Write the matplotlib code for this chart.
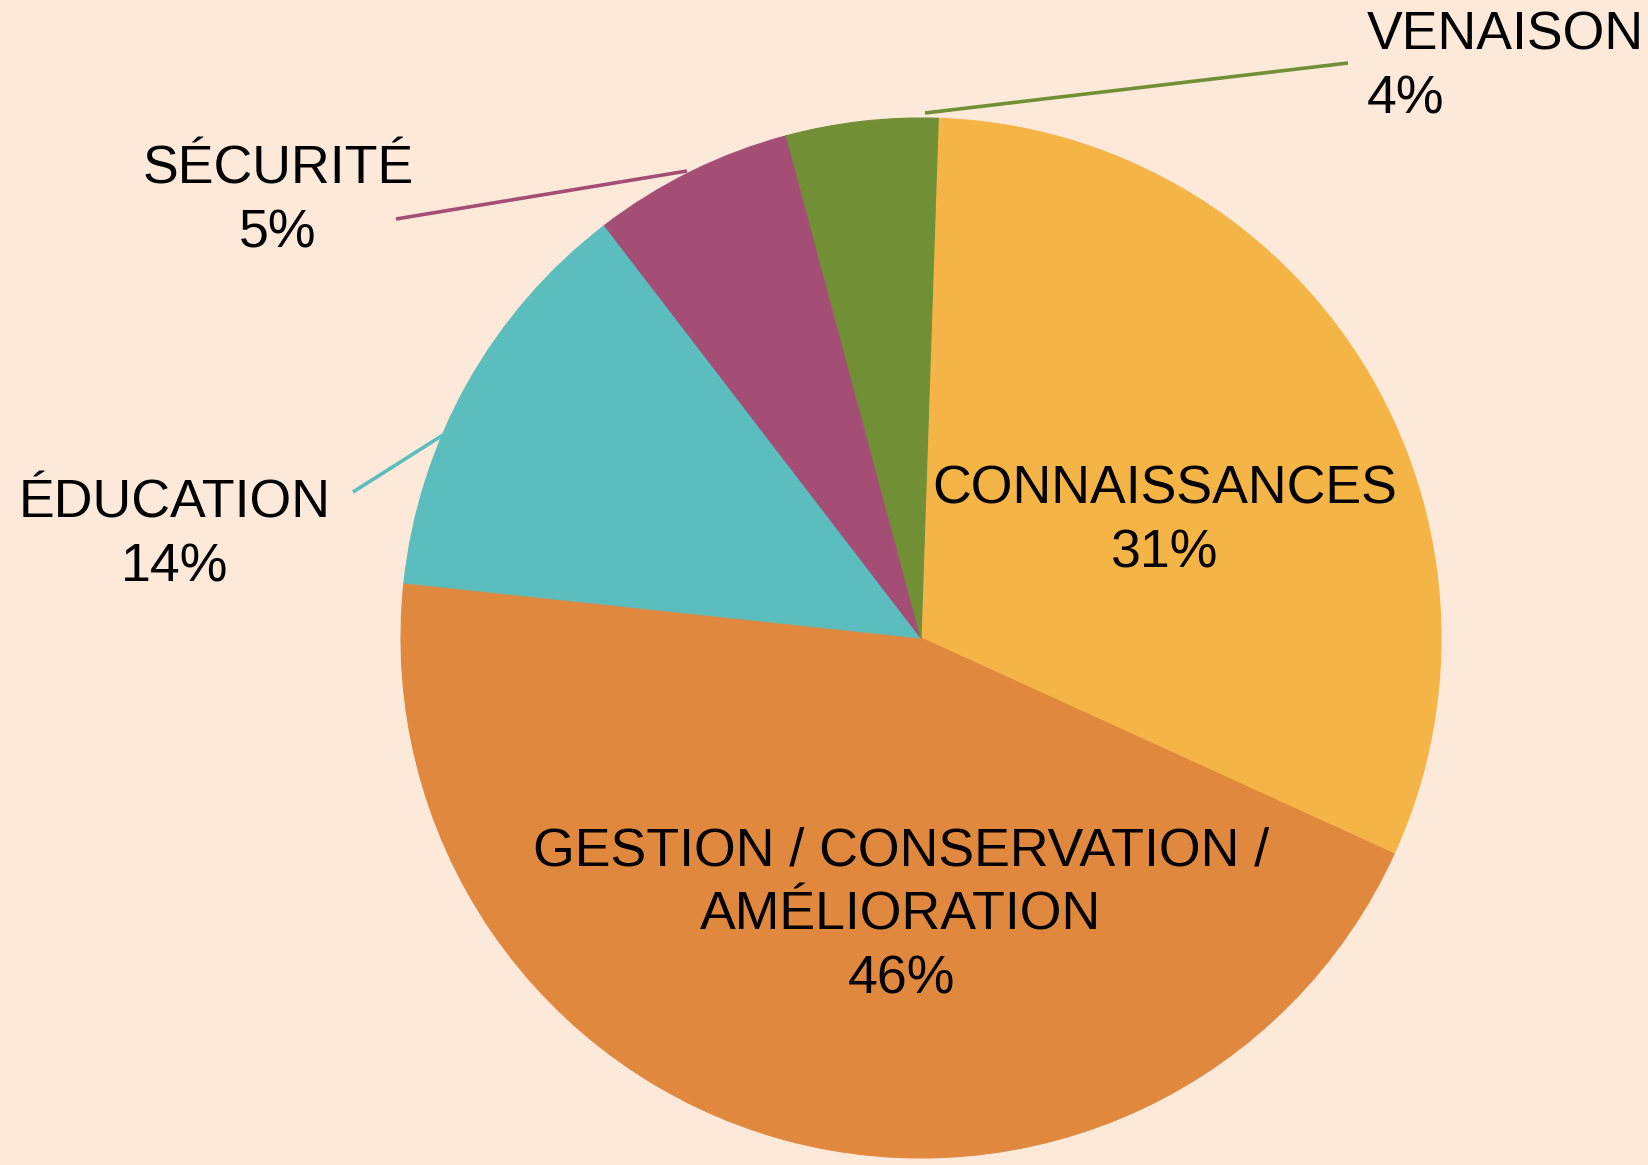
import matplotlib.pyplot as plt

plt.rcParams["font.family"] = ["Liberation Sans", "DejaVu Sans"]

# slice shares as drawn, and the labels as printed
categories = ["CONNAISSANCES", "GESTION / CONSERVATION /\nAMÉLIORATION", "ÉDUCATION", "SÉCURITÉ", "VENAISON"]
shares = [31.3, 44.9, 12.9, 6.25, 4.7]
pct_labels = ["31%", "46%", "14%", "5%", "4%"]
colors = ["#F4B446", "#E0883E", "#5BBDBE", "#A44E76", "#718F35"]
bg = "#FCE9DA"

W, H = 1649, 1165
fig = plt.figure(figsize=(W / 100, H / 100), dpi=100, facecolor=bg)
ax = fig.add_axes([0, 0, 1, 1])
ax.set_facecolor(bg)

cx, cy, r = 921, H - 638, 520
wedges, _ = ax.pie(shares, colors=colors, startangle=88.1, counterclock=False,
                   center=(cx, cy), radius=r, frame=True)
for w, c in zip(wedges, colors):
    w.set_edgecolor(c)
    w.set_linewidth(0.8)

ax.set_xlim(0, W)
ax.set_ylim(0, H)
ax.set_aspect("equal")
ax.axis("off")

# text blocks: (x, first baseline from top, align)
label_pos = [
    (1165, 503, "center"),
    (901, 865, "center"),
    (175, 517, "center"),
    (278, 183, "center"),
    (1367, 50, "left"),
]
step = 64
for name, pct, (x, y0, ha) in zip(categories, pct_labels, label_pos):
    lines = name.split("\n") + [pct]
    for i, line in enumerate(lines):
        ax.text(x, H - (y0 + i * step), line, fontsize=38.6, ha=ha, va="baseline",
                color="black")

# leader lines for the outside labels
leaders = [
    ((353, 492), (443, 435), colors[2]),
    ((396, 219), (687, 171), colors[3]),
    ((1348, 63), (925, 113), colors[4]),
]
for (x0, y0), (x1, y1), c in leaders:
    ax.plot([x0, x1], [H - y0, H - y1], color=c, linewidth=2.6, solid_capstyle="butt")

fig.savefig("out.png", dpi=100, facecolor=bg)
